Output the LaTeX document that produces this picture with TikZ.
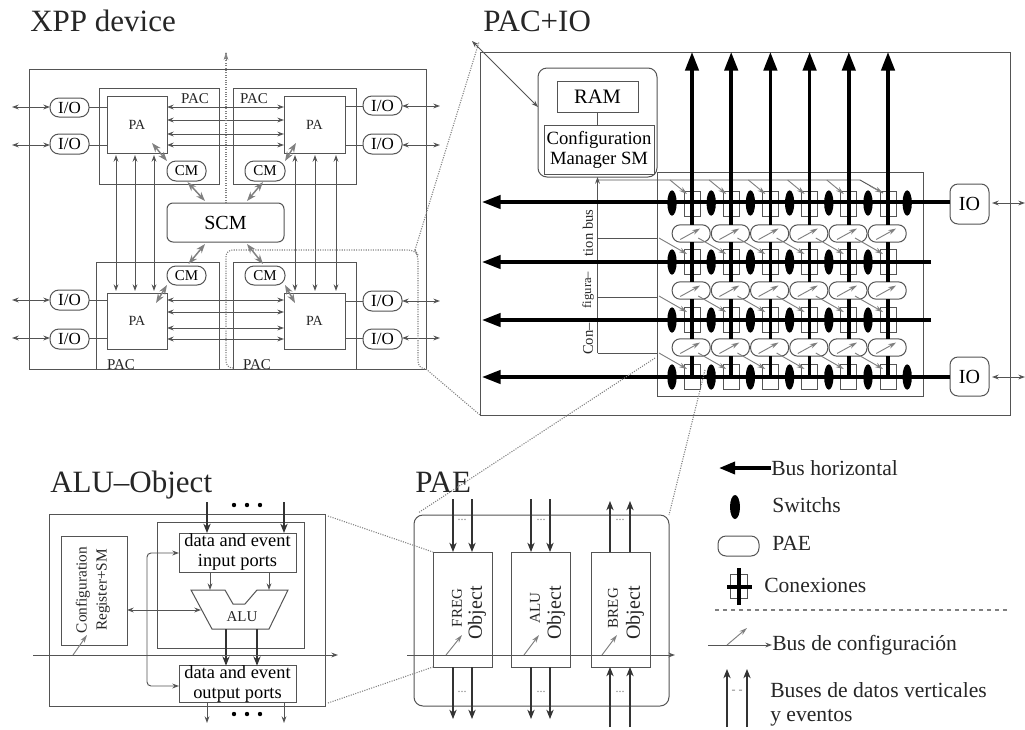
\documentclass[tikz,border=0pt]{standalone}
\usepackage{fontspec}
\setmainfont{Liberation Serif}
\usetikzlibrary{arrows.meta,shapes.geometric,calc}
\definecolor{ln}{gray}{0.33}
\definecolor{lnl}{gray}{0.5}
\newcommand\bx[7][]{\node[boxn,#1,minimum width={(#5-#3)*.75pt},minimum height={(#6-#4)*.75pt}] (#2) at ({(#3+#5)/2},{(#4+#6)/2}) {#7};}
\tikzset{
  boxn/.style={draw=ln,line width=.75pt,inner sep=0pt,outer sep=0pt,rectangle},
  rnd/.style={rounded corners=#1*.75pt},
  title/.style={inner sep=0pt,anchor=base west,font=\fontsize{23.25}{26}\selectfont,text=black!85},
  pill/.style={font=\fontsize{12.75}{14}\selectfont,rnd=9},
  cmn/.style={font=\fontsize{11.25}{13}\selectfont,rnd=9},
  sm/.style={font=\fontsize{10.5}{12}\selectfont,inner sep=0pt,text=black!85},
  small/.style={font=\fontsize{11.25}{13}\selectfont,inner sep=0pt,text=black!85},
  port/.style={font=\fontsize{13.8}{15}\selectfont,align=center},
  objt/.style={font=\fontsize{15}{16}\selectfont,inner sep=0pt,rotate=90,text=black!85},
  lg/.style={font=\fontsize{16.2}{20}\selectfont,inner sep=0pt,anchor=west,text=black!85},
  cbt/.style={inner sep=0pt,rotate=90,text=black!85},
  thin1/.style={draw=ln,line width=.7pt},
  harrow/.style={thin1,-{Stealth[length=5pt,width=3.6pt]}},
  darrow/.style={thin1,{Stealth[length=5pt,width=3.6pt]}-{Stealth[length=5pt,width=3.6pt]}},
  garrow/.style={draw=lnl,line width=1.1pt,{Stealth[length=7pt,width=5pt]}-{Stealth[length=7pt,width=5pt]}},
  farrow/.style={draw=black!80,line width=.8pt,-{Stealth[length=7pt,width=5.5pt]}},
  cfgarrow/.style={draw=lnl,line width=.7pt,-{Stealth[length=6pt,width=3.6pt]}},
  bus/.style={draw=black,line width=2.6pt},
  busa/.style={bus,-{Triangle[length=14pt,width=10pt]}},
  swt/.style={ellipse,fill=black,draw=none,minimum width=7pt,minimum height=19pt,inner sep=0pt,outer sep=0pt},
  dots/.style={draw=lnl,line width=.8pt,densely dotted},
  tdots/.style={font=\fontsize{9}{9}\selectfont,inner sep=0pt,text=lnl},
}
\begin{document}
\begin{tikzpicture}[x=.75pt,y=-.75pt]
\useasboundingbox (0,0) rectangle (1025,729);
\fill[white] (0,0) rectangle (1025,729);

% ---- titles
\node[title] (t1) at (30,31) {XPP device};
\node[title] (t2) at (483,31) {PAC+IO};
\node[title] (t3) at (50,492) {ALU–Object};
\node[title] (t4) at (415,492) {PAE};

% ---- XPP device
\bx{xpp}{29}{69}{426}{369}{}
\bx{pacTL}{99}{88}{219}{184}{}
\bx{pacTR}{233}{88}{356}{184}{}
\bx{pacBL}{96}{262}{219}{369}{}
\bx{pacBR}{233}{262}{356}{369}{}
\node[small] (lTL) at (195,99) {PAC};
\node[small] (lTR) at (254,99) {PAC};
\node[small] (lBL) at (121,365) {PAC};
\node[small] (lBR) at (257,365) {PAC};
\bx[sm]{paTL}{107}{96}{167}{153}{PA}
\bx[sm]{paTR}{284}{96}{345}{153}{PA}
\bx[sm]{paBL}{107}{293}{167}{349}{PA}
\bx[sm]{paBR}{284}{293}{345}{349}{PA}
\bx[pill]{ioL1}{50}{98}{89}{117}{I/O}
\bx[pill]{ioL2}{50}{134}{89}{154}{I/O}
\bx[pill]{ioL3}{50}{290}{89}{310}{I/O}
\bx[pill]{ioL4}{50}{329}{89}{349}{I/O}
\bx[pill]{ioR1}{363}{96}{402}{115}{I/O}
\bx[pill]{ioR2}{363}{134}{402}{154}{I/O}
\bx[pill]{ioR3}{363}{291}{402}{311}{I/O}
\bx[pill]{ioR4}{363}{329}{402}{349}{I/O}
\bx[cmn]{cmTL}{167}{161}{206}{181}{CM}
\bx[cmn]{cmTR}{245}{161}{285}{181}{CM}
\bx[cmn]{cmBL}{167}{266}{206}{285}{CM}
\bx[cmn]{cmBR}{245}{266}{285}{285}{CM}
\bx[rnd=6,font=\fontsize{15}{16}\selectfont]{scm}{167}{203}{284}{242}{SCM}
\foreach \y/\n in {107/ioL1,145/ioL2,300/ioL3,338/ioL4}
  \draw[darrow] (12,\y) -- (\n.west |- 0,\y);
\foreach \y/\n in {106/ioR1,145/ioR2,301/ioR3,338/ioR4}
  \draw[darrow] (\n.east |- 0,\y) -- (440,\y);
\draw[thin1] (ioL1.east |- 0,107) -- (paTL.west |- 0,107);
\draw[thin1] (ioL2.east |- 0,145) -- (paTL.west |- 0,145);
\draw[thin1] (ioL3.east |- 0,300) -- (paBL.west |- 0,300);
\draw[thin1] (ioL4.east |- 0,338) -- (paBL.west |- 0,338);
\draw[thin1] (ioR1.west |- 0,106) -- (paTR.east |- 0,106);
\draw[thin1] (ioR2.west |- 0,145) -- (paTR.east |- 0,145);
\draw[thin1] (ioR3.west |- 0,301) -- (paBR.east |- 0,301);
\draw[thin1] (ioR4.west |- 0,338) -- (paBR.east |- 0,338);
\foreach \y in {107,120,134,145} \draw[darrow] (paTL.east |- 0,\y) -- (paTR.west |- 0,\y);
\foreach \y in {300,312,328,339} \draw[darrow] (paBL.east |- 0,\y) -- (paBR.west |- 0,\y);
\foreach \x in {116,135,154} \draw[darrow] (\x,155) -- (\x,291);
\foreach \x in {295,315,336} \draw[darrow] (\x,155) -- (\x,291);
\draw[garrow] (cmTL.south) ++(1,1) -- (205,201);
\draw[garrow] (cmTR.south) ++(-2,1) -- (247,201);
\draw[garrow] (205,244) -- ($(cmBL.north)+(2,-2)$);
\draw[garrow] (247,244) -- ($(cmBR.north)+(-2,-2)$);
\draw[garrow] (152,143) -- (cmTL.north west);
\draw[garrow] (296,143) -- (cmTR.north east);
\draw[garrow] (156,303) -- (cmBL.south west);
\draw[garrow] (295,303) -- (cmBR.south east);

% dotted projections from XPP to PAC+IO
\coordinate (topdot) at (226,52);
\draw[dots] (scm.north -| 226,0) -- (topdot);
\draw[lnl,line width=.6pt,-{Stealth[open,length=6pt,width=3.5pt]}] (226,60) -- (topdot);
\draw[dots,rounded corners=5pt] (232,368) -- (226,368) -- (226,250) -- (415,250) -- (418,255) -- (418,368) -- (xpp.south east);
\coordinate (pacTLc) at (479,42);
\draw[dots] (415,250) -- (pacTLc);
\coordinate (pacBLc) at (480,415);
\draw[dots] (xpp.south east) -- (pacBLc);

% ---- PAC+IO
\bx{frame}{480}{52}{1010}{415}{}
\bx[rnd=9]{cfgm}{538}{68}{657}{177}{}
\bx[font=\fontsize{15.4}{16}\selectfont]{ram}{557}{81}{638}{112}{RAM}
\bx[font=\fontsize{14}{15}\selectfont,align=center]{cfg}{544}{125}{654}{174}{Configuration\\Manager SM}
\draw[thin1] (ram.south) -- (ram.south |- cfg.north);
\draw[darrow] (472,41) -- (cfgm.west |- 0,107);
\bx{grid}{657}{172}{923}{396}{}
\bx[rnd=8,font=\fontsize{15}{16}\selectfont]{io1}{950}{184}{989}{224}{IO}
\bx[rnd=8,font=\fontsize{15}{16}\selectfont]{io2}{950}{357}{989}{396}{IO}
\draw[darrow] (io1.east |- 0,203) ++(3,0) -- (1025,203);
\draw[darrow] (io2.east |- 0,377) ++(3,0) -- (1025,377);

% config bus
\draw[harrow] (cfgm.south |- 0,353) -- (cfgm.south);
\draw[thin1] (cfgm.south |- 0,353) -- (grid.west |- 0,353);
\draw[thin1] (cfgm.south |- 0,297) -- (grid.west |- 0,297);
\draw[thin1] (cfgm.south |- 0,238) -- (grid.west |- 0,238);
\draw[thin1] (cfgm.south |- 0,180) -- (860,180) -- (883,193);
\node[cbt,font=\fontsize{11}{12}\selectfont] (cb1) at (588,339) {Con–};
\node[cbt,font=\fontsize{9.5}{12}\selectfont] (cb2) at (588,290) {figura–};
\node[cbt,font=\fontsize{10.9}{12}\selectfont] (cb3) at (588,233) {tion bus};

% squares
\foreach \y [count=\r] in {204,262,320,377}
  \foreach \k in {0,...,5}
    \node[boxn,minimum width=12pt,minimum height=18.5pt] (sq-\r-\k) at ({692+39.2*\k},\y) {};
% PAE pills
\foreach \y [count=\r] in {233.5,290.5,347.5}
  \foreach \k in {0,...,5} {
    \node[boxn,rnd=8,minimum width=28.5pt,minimum height=13pt] (pe-\r-\k) at ({691.2+39.2*\k},\y) {};
    \draw[cfgarrow] ($(pe-\r-\k.center)+(-11,6)$) -- ($(pe-\r-\k.center)+(9,-5)$);
  }
% config diagonals
\foreach \k in {0,...,4} \draw[cfgarrow] ({670+39.2*\k},180) -- ({687+39.2*\k},194);
\draw[cfgarrow] (870,186) -- (883,193);
\foreach \y in {262,320,377}
  \foreach \k in {0,...,5} \draw[cfgarrow] ({659+39.2*\k},\y-24) -- ({687+39.2*\k},\y-8);

% vertical data buses
\foreach \k in {0,...,5} {
  \draw[busa] (pe-1-\k.north -| {692+39.2*\k},0) -- ({692+39.2*\k},52);
  \draw[bus] (pe-1-\k.south -| {692+39.2*\k},0) -- (pe-2-\k.north -| {692+39.2*\k},0);
  \draw[bus] (pe-2-\k.south -| {692+39.2*\k},0) -- (pe-3-\k.north -| {692+39.2*\k},0);
  \draw[bus] (pe-3-\k.south -| {692+39.2*\k},0) -- ({692+39.2*\k},377);
}
% horizontal buses
\draw[busa] (io1.west |- 0,202) -- (482,202);
\draw[busa] (grid.east |- 0,262) ++(8,0) -- (482,262);
\draw[busa] (grid.east |- 0,320) ++(8,0) -- (482,320);
\draw[busa] (io2.west |- 0,377) -- (482,377);
% switches
\foreach \y/\m [count=\r] in {203/6,262/5,320/5,377/6}
  \foreach \k in {0,...,\m}
    \node[swt] (sw-\r-\k) at ({672+39.2*\k},\y) {};

% ---- ALU object
\bx{aluo}{49}{514}{325}{706}{}
\bx{aluin}{157}{522}{304}{648}{}
\bx[font=\fontsize{11.5}{15}\selectfont,align=center]{creg}{61}{536}{127}{645}{}
\node[rotate=90,font=\fontsize{11.5}{15}\selectfont,align=center,inner sep=0pt,text=black!85] (cregt) at (93,590) {Configuration\\Register+SM};
\bx[port]{dip}{179}{533}{296}{572}{data and event\\input ports}
\bx[port]{dop}{179}{666}{296}{702}{data and event\\output ports}
\node[small] (alut) at (242,617) {ALU};
\draw[draw=ln,line width=.75pt] (191,590) -- (225,590) -- (233,604) -- (245,604) -- (257,590) -- (288,590) -- (269,629) -- (212,629) -- cycle;
\coordinate (aluL) at (201,610);
\foreach \x in {207,284} {
  \draw[farrow] (\x,502) -- (dip.north -| \x,0);
  \draw[harrow] (dop.south -| \x,0) -- (\x,723);
}
\foreach \x in {234,247,260} {
  \fill[black] (\x,505) circle[radius=2.2];
  \fill[black] (\x,714) circle[radius=2.2];
}
\draw[harrow] (dip.south -| 210,0) -- (210,590);
\draw[harrow] (dip.south -| 269,0) -- (269,590);
\draw[farrow] (226,629) -- (dop.north -| 226,0);
\draw[farrow] (257,629) -- (dop.north -| 257,0);
\draw[harrow] (33,655) -- (338,655);
\draw[cfgarrow] (73,655) -- (87,635);
\draw[darrow] (creg.east |- aluL) -- (aluL);
\draw[thin1,rounded corners=3pt,{Stealth[length=5pt,width=3.6pt]}-{Stealth[length=5pt,width=3.6pt]}] (dip.west |- 0,553) -- (147,553) -- (147,686) -- (dop.west |- 0,686);

% ---- PAE
\bx[rnd=9]{pae}{414}{515}{669}{706}{}
\bx{ob1}{433}{552}{492}{667}{}
\bx{ob2}{511}{552}{570}{667}{}
\bx{ob3}{591}{552}{650}{667}{}
\node[objt,font=\fontsize{11.25}{13}\selectfont] (f1) at (457,608) {FREG};
\node[objt] (f2) at (477,613) {Object};
\node[objt,font=\fontsize{11.25}{13}\selectfont] (a1) at (535,608) {ALU};
\node[objt] (a2) at (556,613) {Object};
\node[objt,font=\fontsize{11.25}{13}\selectfont] (b1) at (613,608) {BREG};
\node[objt] (b2) at (635,613) {Object};
\foreach \x in {453,472,531,550} {
  \draw[farrow] (\x,499) -- (\x,552);
  \draw[farrow] (\x,667) -- (\x,719);
}
\foreach \x in {610,630} {
  \draw[farrow] (\x,552) -- (\x,501);
  \draw[farrow] (\x,727) -- (\x,667);
}
\foreach \x in {462,541,620} {
  \node[tdots] at (\x,520) {...};
  \node[tdots] at (\x,692) {...};
}
\draw[harrow] (407,655) -- (675,655);
\draw[cfgarrow] (446,655) -- (462,635);
\draw[cfgarrow] (524,655) -- (539,635);
\draw[cfgarrow] (602,655) -- (617,635);

% dotted projections
\coordinate (pgA) at (655,358);
\coordinate (pgB) at (705,370);
\draw[dots] (pgA) -- ($(pae.north west)+(4,-2)$);
\draw[dots] (pgB) -- (pae.north east);
\draw[dots] (aluo.north east) ++(3,2) -- (ob1.north west);
\draw[dots] (aluo.south east) ++(3,-3) -- (ob1.south west);

% ---- legend
\node[lg] (lg1) at (771,468) {Bus horizontal};
\draw[bus,-{Triangle[length=12pt,width=9pt]}] (lg1.west) -- (719,468);
\node[lg] (lg2) at (772,505) {Switchs};
\node[swt,minimum width=7.5pt,minimum height=18pt] (lsw) at (735,507) {};
\node[lg] (lg3) at (772,543) {PAE};
\bx[rnd=8]{lpae}{718}{536}{759}{556}{}
\node[lg] (lg4) at (764,585) {Conexiones};
\bx{lsq}{730}{574}{747}{598}{}
\draw[bus] (739,568) -- (739,605);
\draw[bus] (727,587) -- (752,587);
\draw[draw=lnl,line width=.8pt,dashed] (715,610) -- (1010,610);
\node[lg] (lg5) at (772,645) {Bus de configuración};
\draw[harrow] (708,645) -- (lg5.west);
\draw[cfgarrow] (727,645) -- (747,628);
\node[lg] (lg6) at (770,690) {Buses de datos verticales};
\node[lg] (lg7) at (770,718) {y eventos};
\draw[farrow] (727,727) -- (727,669);
\draw[farrow] (747,727) -- (747,669);
\node[tdots] (ldots) at (737,692) {- -};
\end{tikzpicture}
\end{document}
